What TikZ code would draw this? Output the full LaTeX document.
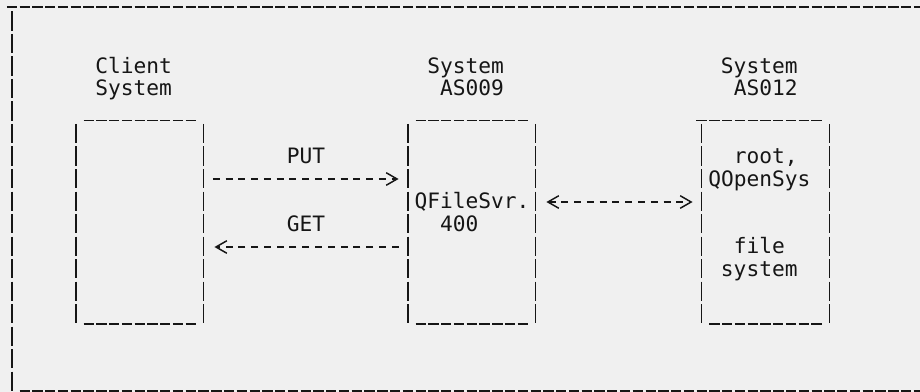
\documentclass[tikz,border=0pt]{standalone}
\usepackage{fontspec}
\setmonofont{DejaVu Sans Mono}
\usetikzlibrary{arrows.meta,calc}
\definecolor{ink}{HTML}{161616}
\definecolor{paper}{HTML}{F0F0F0}

\begin{document}
\begin{tikzpicture}[x=0.75pt, y=-0.75pt,
    txt/.style={anchor=base west, inner sep=0pt, text=ink, font=\ttfamily\fontsize{15.9}{16.9}\selectfont},
    sysbox/.style={rectangle, minimum width=95.775pt, minimum height=150pt, inner sep=0pt, outer sep=0pt},
    pipes/.style={ink, line width=1.1pt, dash pattern=on 14.5pt off 2.375pt},
    unders/.style={ink, line width=1.1pt, dash pattern=on 7.73pt off 1.85pt},
    hyph/.style={ink, line width=1.1pt, dash pattern=on 5.25pt off 4.33pt},
    chev/.style={-{Straight Barb[length=8.2pt, width=9.4pt, sep=1.8pt]}},
    chevs/.style={{Straight Barb[length=8.2pt, width=9.4pt, sep=1.8pt]}-{Straight Barb[length=8.2pt, width=9.4pt, sep=1.8pt]}}]
    \fill[paper] (0,0) rectangle (920,392);
    \useasboundingbox (0,0) rectangle (920,392);

    % Outer frame
    \draw[unders] (6.85,7) -- (920,7);
    \draw[pipes] (12,11.5) -- (12,391);
    \draw[unders] (19.6,391) -- (920,391);

    % System headings
    \node[txt] (cl1) at (95,73.5) {Client};
    \node[txt] (cl2) at (95,96) {System};
    \node[txt] (sv1) at (427,73.5) {System};
    \node[txt] (sv2) at (439.8,96) {AS009};
    \node[txt] (fs1) at (720.7,73.5) {System};
    \node[txt] (fs2) at (733.5,96) {AS012};

    % Boxes
    \node[sysbox] (client) at (139.7,224) {};
    \node[sysbox] (srv) at (471.75,224) {};
    \node[sysbox] (ifs) at (765.45,224) {};
    \foreach \b in {client,srv,ifs} {
        \draw[pipes] (\b.north west) -- (\b.south west);
        \draw[pipes] (\b.north east) -- (\b.south east);
        \draw[unders] ($(\b.south west)+(7.65,0)$) -- ($(\b.south east)+(-7.65,0)$);
    }
    \draw[unders] ($(client.north west)+(7.65,-3.5)$) -- ($(client.north east)+(-7.65,-3.5)$);
    \draw[unders] ($(srv.north west)+(7.65,-3.5)$) -- ($(srv.north east)+(-7.65,-3.5)$);
    \draw[unders] ($(ifs.north west)+(-5.15,-3.5)$) -- ($(ifs.north east)+(-7.65,-3.5)$);

    % Box contents
    \node[txt] (svname) at (414.25,208.5) {QFileSvr.};
    \node[txt] (svnum) at (439.8,231) {400};
    \node[txt] (root) at (733.5,163.5) {root,};
    \node[txt] (qopen) at (708,186) {QOpenSys};
    \node[txt] (file) at (733.5,253.5) {file};
    \node[txt] (fsys) at (720.7,276) {system};

    % Transfers
    \node[txt] (put) at (286.55,163.5) {PUT};
    \node[txt] (get) at (286.55,231) {GET};
    \draw[hyph, chev] ($(client.east)+(9.25,-45)$) -- ($(srv.west)+(-6.9,-45)$);
    \draw[hyph, chev] ($(srv.west)+(-9.3,23)$) -- ($(client.east)+(8.5,23)$);
    \draw[hyph, chevs] ($(srv.east)+(8.4,-22)$) -- ($(ifs.west)+(-6.6,-22)$);

\end{tikzpicture}
\end{document}
